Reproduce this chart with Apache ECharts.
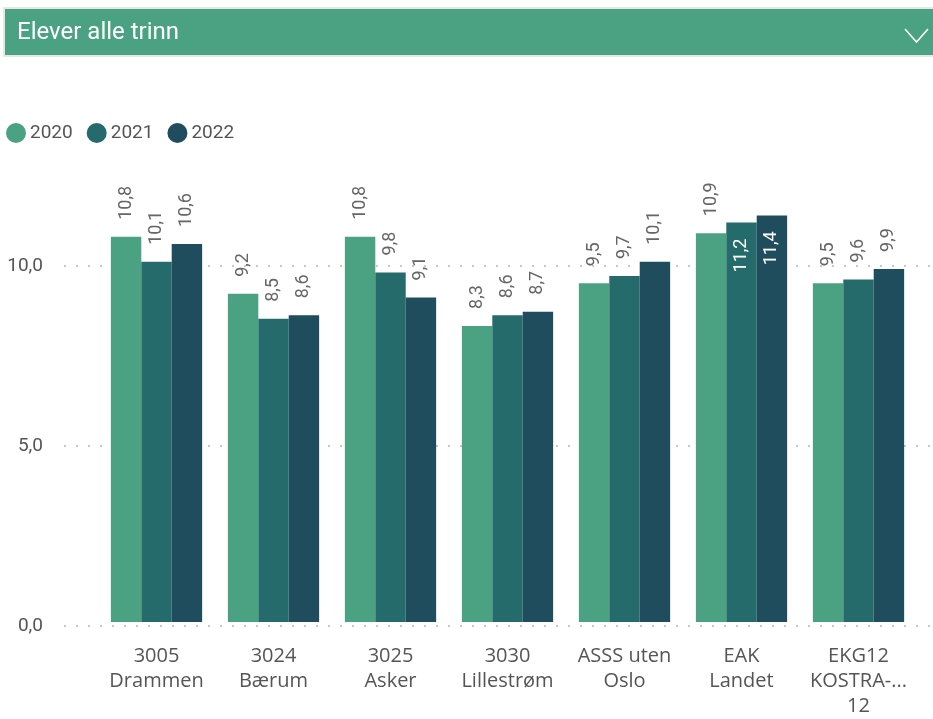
<!DOCTYPE html>
<html>
<head>
<meta charset="utf-8">
<script src="https://cdn.jsdelivr.net/npm/echarts@6/dist/echarts.min.js"></script>
<style>
html,body{margin:0;padding:0;background:#fff;}
#chart{width:933px;height:719px;}
</style>
</head>
<body>
<div id="chart"></div>
<script>
const categories = ["3005\nDrammen", "3024\nBærum", "3025\nAsker", "3030\nLillestrøm", "ASSS uten\nOslo", "EAK\nLandet", "EKG12\nKOSTRA-...\n12"];
const years = ["2020", "2021", "2022"];
const values2020 = [10.8, 9.2, 10.8, 8.3, 9.5, 10.9, 9.5];
const values2021 = [10.1, 8.5, 9.8, 8.6, 9.7, 11.2, 9.6];
const values2022 = [10.6, 8.6, 9.1, 8.7, 10.1, 11.4, 9.9];
const yTicks = [0, 5, 10];
const title = "Elever alle trinn";

const colors = ["#4ba283", "#256b6b", "#1f4d5e"];
const fmt = v => v.toFixed(1).replace('.', ',');
const allSeries = [values2020, values2021, values2022];

function makeData(arr) {
  return arr.map(v => {
    if (v >= 11) {
      return {
        value: v,
        label: { position: 'insideTop', align: 'right', color: '#ffffff', distance: 16 }
      };
    }
    return v;
  });
}

const chart = echarts.init(document.getElementById('chart'), null, { renderer: 'canvas' });
const option = {
  animation: false,
  backgroundColor: '#ffffff',
  color: colors,
  graphic: [
    { type: 'rect', shape: { x: 3, y: 7, width: 940, height: 50 }, style: { fill: '#e6e6e6' }, z: 0 },
    { type: 'rect', shape: { x: 5, y: 9, width: 940, height: 46 }, style: { fill: '#4ba283' }, z: 1 },
    { type: 'text', x: 17, y: 33, z: 2,
      style: { text: title, fill: '#ffffff', fontSize: 24, fontFamily: 'Roboto', verticalAlign: 'middle' } },
    { type: 'polyline', z: 2, shape: { points: [[905, 29], [916.5, 42], [928, 29]] },
      style: { stroke: '#ffffff', lineWidth: 1.5, fill: null } }
  ],
  legend: {
    data: years,
    left: 1, top: 118,
    icon: 'circle',
    itemWidth: 20, itemHeight: 20, itemGap: 14,
    textStyle: { color: '#555555', fontSize: 19, fontFamily: 'Roboto', padding: [0, 0, 0, -1] }
  },
  grid: [
    { left: 64, right: 0, top: 194, bottom: 93 },
    { left: 98, right: 16, top: 194, bottom: 93 }
  ],
  xAxis: [
    { type: 'value', gridIndex: 0, show: false, min: 0, max: 1 },
    {
      type: 'category', gridIndex: 1, data: categories,
      axisLine: { show: false }, axisTick: { show: false },
      axisLabel: { color: '#555555', fontSize: 20, fontFamily: 'Open Sans', lineHeight: 25, margin: 22, interval: 0 }
    }
  ],
  yAxis: [
    {
      type: 'value', gridIndex: 0, min: 0, max: 12, interval: 5,
      axisLine: { show: false }, axisTick: { show: false },
      axisLabel: {
        color: '#555555', fontSize: 19, fontFamily: 'Roboto', margin: 21,
        formatter: v => (yTicks.indexOf(v) >= 0 ? fmt(v) : '')
      },
      splitLine: { show: true, lineStyle: { color: ['#c8c8c8', '#c8c8c8', '#c8c8c8', 'rgba(0,0,0,0)'], type: [2, 10], width: 2 } }
    },
    { type: 'value', gridIndex: 1, min: 0, max: 12, show: false, splitLine: { show: false } }
  ],
  series: allSeries.map((arr, i) => ({
    name: years[i],
    type: 'bar',
    xAxisIndex: 1, yAxisIndex: 1,
    data: makeData(arr),
    barGap: '0%',
    barCategoryGap: '22%',
    itemStyle: { color: colors[i] },
    label: {
      show: true, position: 'top', rotate: 90, align: 'left', verticalAlign: 'middle',
      distance: 17, color: '#666666', fontSize: 18, fontFamily: 'Roboto',
      formatter: p => fmt(p.value)
    }
  }))
};
chart.setOption(option);
</script>
</body>
</html>
